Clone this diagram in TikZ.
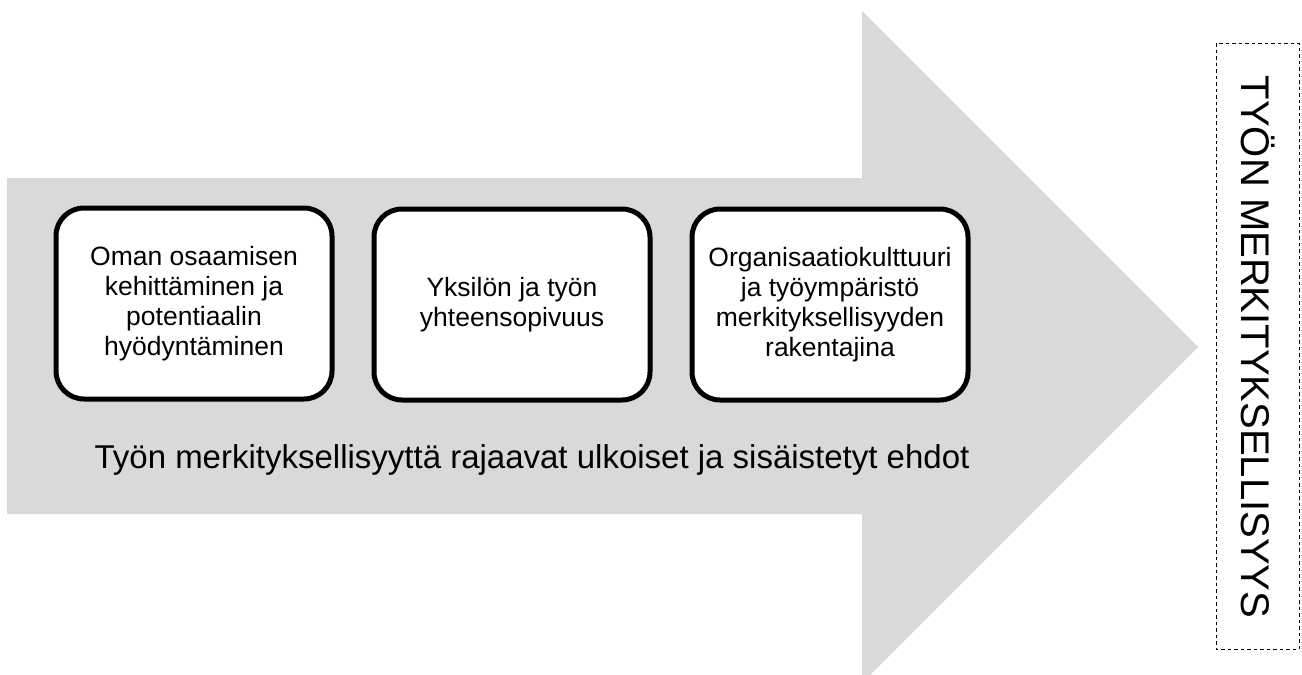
\documentclass[tikz,border=0pt]{standalone}
\usepackage{fontspec}
\setmainfont{Liberation Sans}
\definecolor{arrowgray}{HTML}{D9D9D9}
\begin{document}
\begin{tikzpicture}[x=1pt,y=-1pt,
  stage/.style={draw=black,line width=5pt,fill=white,rounded corners=28pt,
    minimum width=276pt,minimum height=191pt,align=center,inner sep=0pt,
    font=\fontsize{26.5}{30}\selectfont},
  framebox/.style={draw=black,line width=0.9pt,dash pattern=on 3.5pt off 3pt}]
\useasboundingbox (0,0) rectangle (1302,675);
\begin{scope}
\clip (0,0) rectangle (1302,675);
\fill[arrowgray] (7,178) -- (862,178) -- (862,11) -- (1198,347) -- (862,683)
  -- (862,514) -- (7,514) -- cycle;
\end{scope}
\node[stage] (s1) at (194,303.5) {Oman osaamisen\\kehittäminen ja\\potentiaalin\\hyödyntäminen};
\node[stage] (s2) at (512,304.5) {Yksilön ja työn\\yhteensopivuus};
\node[stage] (s3) at (830,304.5) {Organisaatiokulttuuri\\ja työympäristö\\merkityksellisyyden\\rakentajina};
\node[font=\fontsize{33}{37}\selectfont] (cond) at (532,460) {Työn merkityksellisyyttä rajaavat ulkoiset ja sisäistetyt ehdot};
\draw[framebox] (1216,43) rectangle (1299,649);
\node[rotate=-90,font=\fontsize{40}{44}\selectfont] (goal) at (1258,347) {TYÖN MERKITYKSELLISYYS};
\end{tikzpicture}
\end{document}
